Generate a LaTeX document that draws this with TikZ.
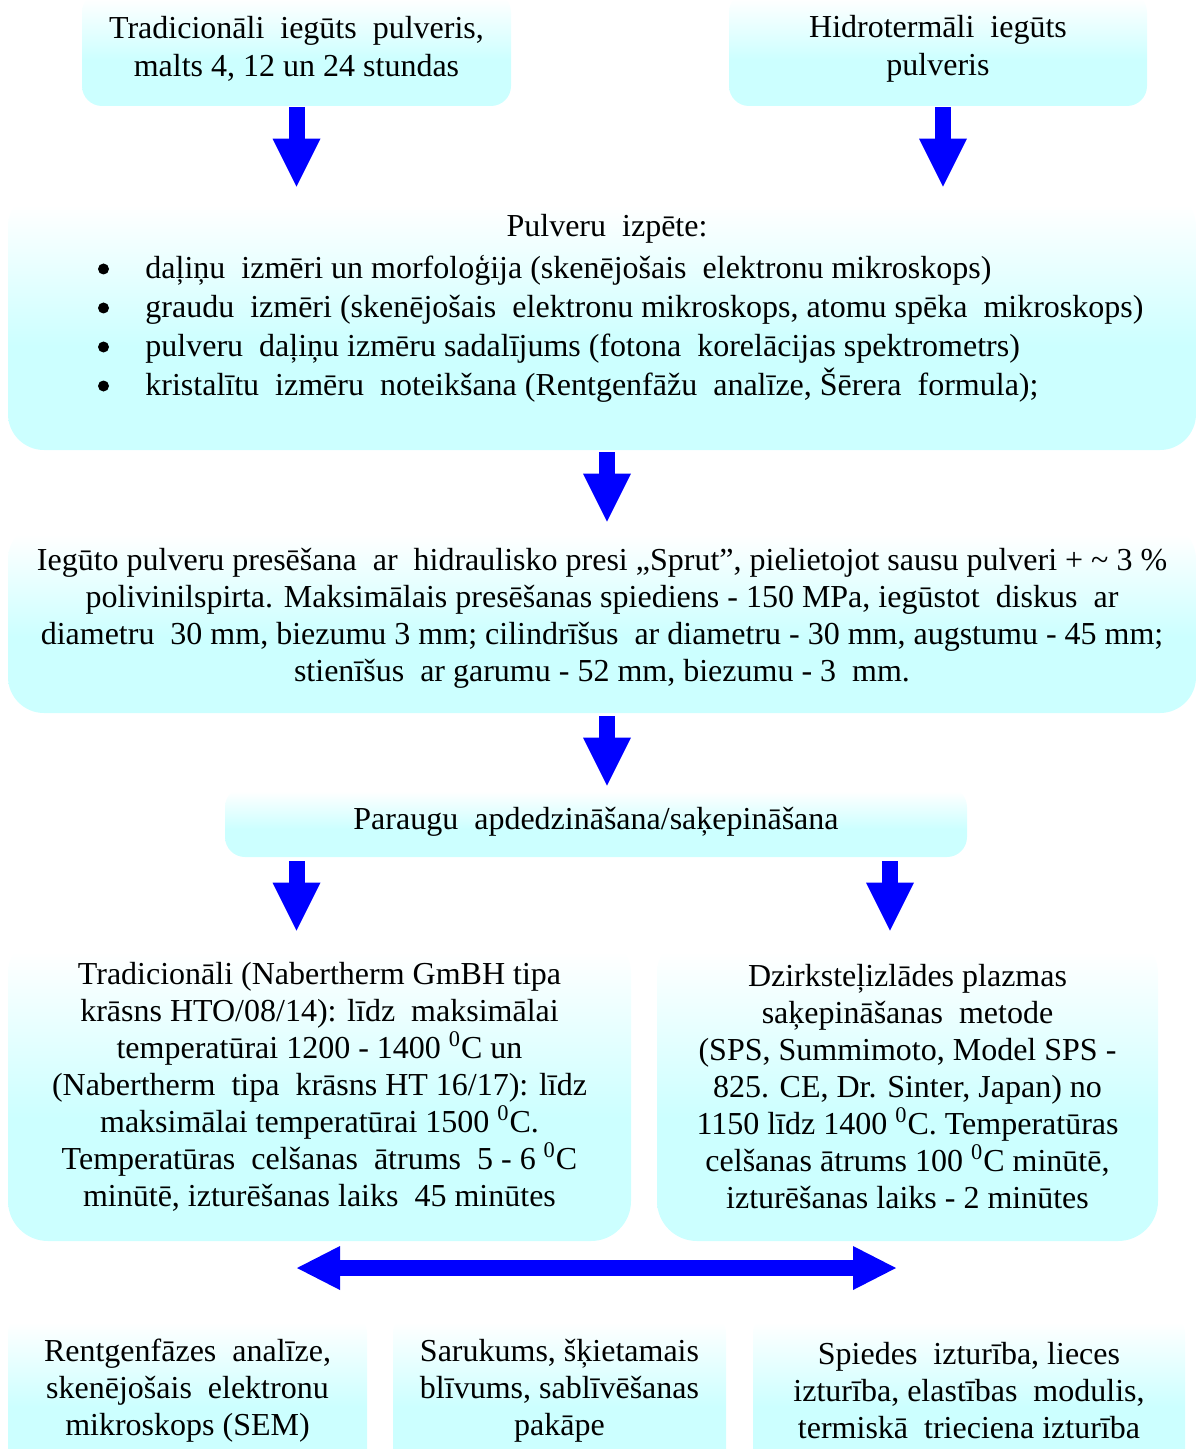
\documentclass[tikz,border=0pt]{standalone}
\usepackage{fontspec}
\setmainfont{Liberation Serif}
\usetikzlibrary{arrows.meta}
\definecolor{gaissZils}{RGB}{204,255,255}
\pgfdeclareverticalshading{kaste}{100bp}{color(0bp)=(gaissZils); color(25bp)=(gaissZils); color(45bp)=(gaissZils); color(72bp)=(white); color(100bp)=(white)}
\tikzset{
  box/.style={shade, shading=kaste, rounded corners=10pt, inner sep=0pt, align=center, font=\fontsize{16}{18.5}\selectfont},
  bulta/.style={draw=blue, line width=8pt, -{Triangle[length=24pt,width=24pt,line width=0pt]}},
  divbultas/.style={draw=blue, line width=8pt, {Triangle[length=21.5pt,width=22pt,line width=0pt]}-{Triangle[length=21.5pt,width=22pt,line width=0pt]}}
}
\begin{document}
\begin{tikzpicture}[x=0.5pt, y=-0.5pt]
\useasboundingbox (0,0) rectangle (1196,1449);
\node[box, font=\fontsize{16}{19}\selectfont, minimum width=214.5pt, minimum height=57pt] (Tradicionali) at (296.5,49) {Tradicionāli~ iegūts~ pulveris,\\ malts 4, 12 un 24 stundas};
\node[box, font=\fontsize{16}{19}\selectfont, minimum width=209pt, minimum height=57pt] (Hidrotermali) at (938,49) {Hidrotermāli~ iegūts\\ pulveris};
\node[box, rounded corners=18pt, minimum width=594pt, minimum height=130pt] (Izpete) at (602,320) {};
\node[font=\fontsize{16}{19.5}\selectfont] (IzpeteVirsraksts) at (607,229) {Pulveru~ izpēte:};
\node[font=\fontsize{16}{19.5}\selectfont, align=left, anchor=west, inner sep=0pt] (IzpeteSaraksts) at (145,328.5) {daļiņu~ izmēri un morfoloģija (skenējošais~ elektronu mikroskops)\\ graudu~ izmēri (skenējošais~ elektronu mikroskops, atomu spēka~ mikroskops)\\ pulveru~ daļiņu izmēru sadalījums (fotona~ korelācijas spektrometrs)\\ kristalītu~ izmēru~ noteikšana (Rentgenfāžu~ analīze, Šērera~ formula);};
\fill (103.5,269) circle[radius=2.75pt];
\fill (103.5,308) circle[radius=2.75pt];
\fill (103.5,347) circle[radius=2.75pt];
\fill (103.5,386) circle[radius=2.75pt];
\node[box, rounded corners=18pt, minimum width=594pt, minimum height=95pt] (Presesana) at (602,618) {Iegūto pulveru presēšana~ ar~ hidraulisko presi „Sprut”, pielietojot sausu pulveri + \textasciitilde{} 3 \%\\ polivinilspirta. Maksimālais presēšanas spiediens - 150 MPa, iegūstot~ diskus~ ar\\ diametru~ 30 mm, biezumu 3 mm; cilindrīšus~ ar diametru - 30 mm, augstumu - 45 mm;\\ stienīšus~ ar garumu - 52 mm, biezumu - 3~ mm.};
\node[box, minimum width=371pt, minimum height=35pt] (Apdedzinasana) at (596,822) {Paraugu~ apdedzināšana/saķepināšana};
\node[box, rounded corners=20pt, minimum width=311.5pt, minimum height=154pt] (Krasns) at (319.5,1087) {Tradicionāli (Nabertherm GmBH tipa\\ krāsns HTO/08/14): līdz~ maksimālai\\ temperatūrai 1200 - 1400 \textsuperscript{0}C un\\ (Nabertherm~ tipa~ krāsns HT 16/17): līdz\\ maksimālai temperatūrai 1500 \textsuperscript{0}C.\\ Temperatūras~ celšanas~ ātrums~ 5 - 6 \textsuperscript{0}C\\ minūtē, izturēšanas laiks~ 45 minūtes};
\node[box, rounded corners=20pt, minimum width=250.5pt, minimum height=154pt] (SPS) at (907.5,1087) {Dzirksteļizlādes plazmas\\ saķepināšanas~ metode\\ (SPS, Summimoto, Model SPS -\\ 825. CE, Dr. Sinter, Japan) no\\ 1150 līdz 1400 \textsuperscript{0}C. Temperatūras\\ celšanas ātrums 100 \textsuperscript{0}C minūtē,\\ izturēšanas laiks - 2 minūtes};
\node[box, minimum width=179.5pt, minimum height=78pt] (Rentgens) at (187.5,1391) {Rentgenfāzes~ analīze,\\ skenējošais~ elektronu\\ mikroskops (SEM)};
\node[box, minimum width=166.5pt, minimum height=78pt] (Sarukums) at (559.5,1391) {Sarukums, šķietamais\\ blīvums, sablīvēšanas\\ pakāpe};
\node[box, minimum width=216pt, minimum height=78pt] (Izturiba) at (969,1391) {Spiedes~ izturība, lieces\\ izturība, elastības~ modulis,\\ termiskā~ trieciena izturība};
\coordinate (LabaAugsa) at (943,0);
\coordinate (LabaBulta) at (890,0);
\coordinate (BultaKreisa) at (297,1268);
\coordinate (BultaLaba) at (896,1268);

\draw[bulta, shorten <=0.5pt, shorten >=1.5pt] (Tradicionali.south) 	-- (Tradicionali.south |- Izpete.north);
\draw[bulta, shorten <=0.5pt, shorten >=1.5pt] (Hidrotermali.south -| LabaAugsa) 	-- (Izpete.north -| LabaAugsa);
\draw[bulta, shorten <=1pt, shorten >=0.5pt] (Izpete.south -| IzpeteVirsraksts) 	-- (Presesana.north -| IzpeteVirsraksts);
\draw[bulta, shorten <=1.5pt, shorten >=0.5pt] (Presesana.south -| IzpeteVirsraksts) 	-- (Apdedzinasana.north -| IzpeteVirsraksts);
\draw[bulta, shorten <=2pt, shorten >=1pt] (Apdedzinasana.south -| Tradicionali.south) 	-- (Krasns.north -| Tradicionali.south);
\draw[bulta, shorten <=2pt, shorten >=1pt] (Apdedzinasana.south -| LabaBulta) 	-- (SPS.north -| LabaBulta);
\draw[divbultas] (BultaKreisa) -- (BultaLaba);

\end{tikzpicture}
\end{document}
